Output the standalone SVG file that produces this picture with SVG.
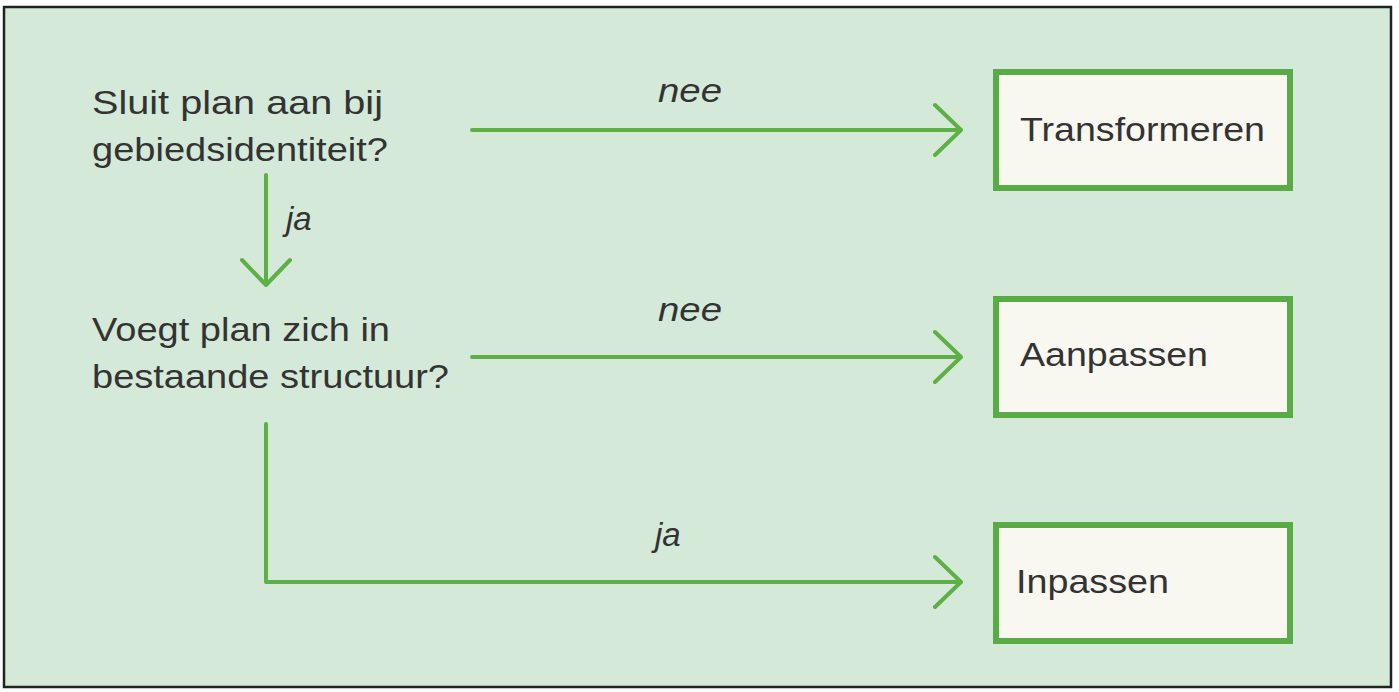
<svg xmlns="http://www.w3.org/2000/svg" width="1399" height="692" viewBox="0 0 1399 692">
<style>
text{font-family:"Liberation Sans",Arial,sans-serif;font-size:33px;fill:#333}
.l{font-style:italic}
.box{fill:#f8f7f0;stroke:#58ab45;stroke-width:6}
.c{fill:none;stroke:#5cb045;stroke-width:4;stroke-linecap:round;stroke-linejoin:round}
</style>
<rect width="1399" height="692" fill="#fff"/>
<rect x="4" y="7" width="1387" height="680" fill="#d5e9d8" stroke="#222" stroke-width="2.5"/>
<g id="q1"><text x="92" y="114" textLength="291" lengthAdjust="spacingAndGlyphs">Sluit plan aan bij</text><text x="92" y="161" textLength="296" lengthAdjust="spacingAndGlyphs">gebiedsidentiteit?</text></g>
<g id="q2"><text x="92" y="341" textLength="298" lengthAdjust="spacingAndGlyphs">Voegt plan zich in</text><text x="92" y="388" textLength="357" lengthAdjust="spacingAndGlyphs">bestaande structuur?</text></g>
<g id="transformeren"><rect class="box" x="996" y="72" width="294" height="116"/><text x="1020" y="141" textLength="245" lengthAdjust="spacingAndGlyphs">Transformeren</text></g>
<g id="aanpassen"><rect class="box" x="996" y="299" width="294" height="116"/><text x="1020" y="366" textLength="188" lengthAdjust="spacingAndGlyphs">Aanpassen</text></g>
<g id="inpassen"><rect class="box" x="996" y="525" width="294" height="116"/><text x="1016" y="593" textLength="153" lengthAdjust="spacingAndGlyphs">Inpassen</text></g>
<g id="connectors">
<path class="c" d="M472 130H960M935 105L961 130L935 155"/>
<path class="c" d="M472 357H960M935 332L961 357L935 382"/>
<path class="c" d="M266 175V284M242 260L266 285L290 260"/>
<path class="c" d="M266 424V582H960M935 557L961 582L935 607"/>
<text class="l" x="658" y="102" textLength="64" lengthAdjust="spacingAndGlyphs">nee</text>
<text class="l" x="658" y="321" textLength="64" lengthAdjust="spacingAndGlyphs">nee</text>
<text class="l" x="286" y="230">ja</text>
<text class="l" x="655" y="546">ja</text>
</g>
</svg>
